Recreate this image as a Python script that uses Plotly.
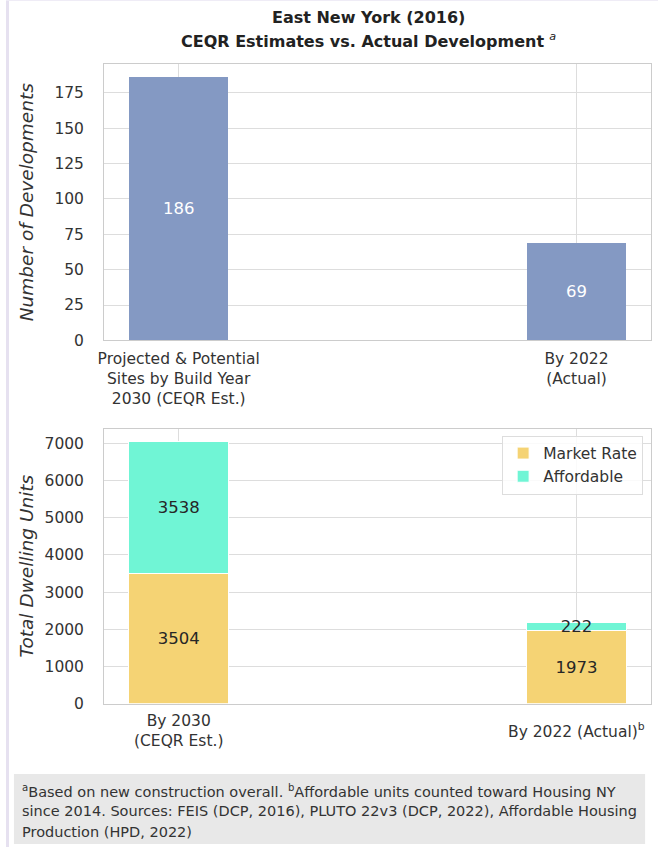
import plotly.graph_objects as go

# data
top_cats = ["Projected & Potential<br>Sites by Build Year<br>2030 (CEQR Est.)", "By 2022<br>(Actual)"]
top_vals = [186, 69]

bot_cats = ["By 2030<br>(CEQR Est.)", "By 2022 (Actual)<sup>b</sup>"]
market_rate = [3504, 1973]
affordable = [3538, 222]

footer_lines = [
    "<sup>a</sup>Based on new construction overall. <sup>b</sup>Affordable units counted toward Housing NY",
    "since 2014. Sources: FEIS (DCP, 2016), PLUTO 22v3 (DCP, 2022), Affordable Housing",
    "Production (HPD, 2022)",
]

# positions are worked out on a 658x847 grid
W, H = 658, 847
FIG_H = 857

def px_x(x):
    return x / W

def px_y(y):
    return 1 - y / H

fig = go.Figure()

fig.add_trace(go.Bar(x=[0, 1], y=top_vals, width=0.25, text=top_vals, textposition="inside",
                     insidetextanchor="middle", textfont=dict(color="white", size=16.5),
                     marker=dict(color="#8499c3", line=dict(width=0)),
                     showlegend=False, xaxis="x", yaxis="y"))

fig.add_trace(go.Bar(x=[0, 1], y=market_rate, width=0.25, text=market_rate, textposition="inside",
                     insidetextanchor="middle", textfont=dict(color="#262626", size=16.5),
                     marker=dict(color="#f5d374", line=dict(color="white", width=1)),
                     name="Market Rate", xaxis="x2", yaxis="y2"))
fig.add_trace(go.Bar(x=[0, 1], y=affordable, width=0.25, text=affordable, textposition="inside",
                     insidetextanchor="middle", textfont=dict(color="#262626", size=16.5),
                     constraintext="none",
                     marker=dict(color="#70f5d5", line=dict(color="white", width=1)),
                     name="Affordable", xaxis="x2", yaxis="y2"))

axis_common = dict(showline=True, mirror=True, linecolor="#cccccc", linewidth=1,
                   gridcolor="#dddddd", zeroline=False,
                   tickfont=dict(size=15.5, color="#333333"))

fig.update_layout(
    width=W, height=FIG_H,
    margin=dict(l=0, r=0, t=0, b=0),
    paper_bgcolor="white", plot_bgcolor="white",
    barmode="stack",
    font=dict(family="DejaVu Sans", color="#333333"),
    xaxis=dict(domain=[px_x(99), px_x(651)], anchor="y", range=[-0.1875, 1.1875],
               tickvals=[0, 1], ticktext=top_cats, ticklabelstandoff=4, **axis_common),
    yaxis=dict(domain=[px_y(340), px_y(64)], anchor="x", range=[0, 195.3],
               dtick=25, ticklabelstandoff=16,
               title=dict(text="<i>Number of Developments</i>", font=dict(size=18.5), standoff=15),
               **axis_common),
    xaxis2=dict(domain=[px_x(99), px_x(651)], anchor="y2", range=[-0.1875, 1.1875],
                tickvals=[0, 1], ticktext=["", ""], **axis_common),
    yaxis2=dict(domain=[px_y(703), px_y(428)], anchor="x2", range=[0, 7394],
                dtick=1000, ticklabelstandoff=16,
                title=dict(text="<i>Total Dwelling Units</i>", font=dict(size=18.5), standoff=6),
                **axis_common),
    legend=dict(x=px_x(643), xanchor="right", y=px_y(435), yanchor="top",
                bgcolor="rgba(255,255,255,0.85)", bordercolor="#dddddd", borderwidth=1,
                font=dict(size=15.5, color="#333333"), traceorder="normal"),
    uniformtext=dict(mode="show", minsize=10),
)

# bottom x tick labels (vertically centred like the original)
fig.add_annotation(x=0, y=px_y(730), xref="x2", yref="paper", yanchor="middle", text=bot_cats[0],
                   showarrow=False, font=dict(size=15.5, color="#333333"))
fig.add_annotation(x=1, y=px_y(730), xref="x2", yref="paper", yanchor="middle", text=bot_cats[1],
                   showarrow=False, font=dict(size=15.5, color="#333333"))

# title
fig.add_annotation(x=px_x(366), y=px_y(17), xref="paper", yref="paper", yanchor="middle",
                   text="<b>East New York (2016)</b>", showarrow=False,
                   font=dict(size=16, color="#222222"))
fig.add_annotation(x=px_x(366), y=px_y(40), xref="paper", yref="paper", yanchor="middle",
                   text="<b>CEQR Estimates vs. Actual Development</b> <i><sup>a</sup></i>",
                   showarrow=False, font=dict(size=16, color="#222222"))

# thin page edge and footer box
fig.add_shape(type="rect", xref="paper", yref="paper", x0=0, x1=px_x(3), y0=0, y1=1,
              fillcolor="#e6e1f0", line=dict(width=0), layer="below")
fig.add_shape(type="rect", xref="paper", yref="paper", x0=0, x1=1, y0=px_y(1), y1=1,
              fillcolor="#efecf6", line=dict(width=0), layer="below")
fig.add_shape(type="rect", xref="paper", yref="paper", x0=px_x(8), x1=px_x(645),
              y0=px_y(843), y1=px_y(773), fillcolor="#e8e8e8", line=dict(width=0), layer="below")

for i, line in enumerate(footer_lines):
    fig.add_annotation(x=px_x(14), y=px_y(790 + 20.5 * i), xref="paper", yref="paper",
                       xanchor="left", yanchor="middle", align="left", showarrow=False,
                       text=line, font=dict(size=14.5, color="#333333"))

post = ("document.documentElement.style.overflow='hidden';"
        "document.body.style.margin='0px';document.body.style.overflow='hidden';"
        "var d=document.getElementsByClassName('plotly-graph-div')[0];"
        "d.style.display='block';d.parentElement.style.height='" + str(FIG_H) + "px';"
        "d.parentElement.style.overflow='hidden';")

fig.write_html("out.html", config={"displayModeBar": False}, post_script=post)
